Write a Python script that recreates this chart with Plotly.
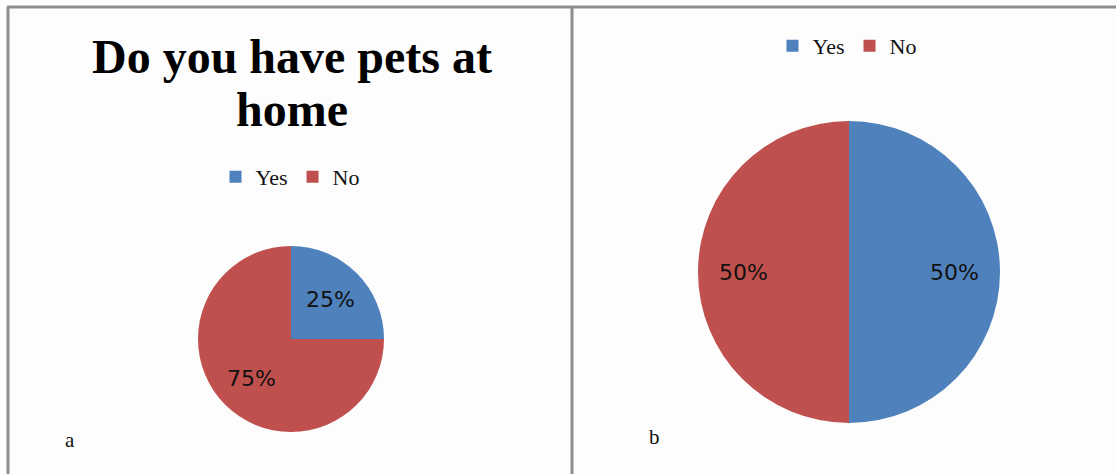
import math
import plotly.graph_objects as go

# Survey answers for the two panels
categories = ["Yes", "No"]
panel_a_values = [25, 75]
panel_b_values = [50, 50]
panel_labels = ["a", "b"]
title_lines = ["Do you have pets at", "home"]

W, H = 1116, 474
colors = ["#4f81bd", "#c0504d"]
serif = "Liberation Serif"


def px_x(v):
    return v / W


def px_y(v):
    return 1 - v / H


# pie geometry (centre and radius in pixels)
pies = [
    dict(values=panel_a_values, cx=291, cy=339, r=93, legend="legend", group="a", k=0.6),
    dict(values=panel_b_values, cx=849, cy=272, r=151, legend="legend2", group="b", k=0.70),
]

fig = go.Figure()
annotations = []
for p in pies:
    fig.add_trace(go.Pie(
        labels=categories,
        values=p["values"],
        sort=False,
        direction="clockwise",
        rotation=0,
        marker=dict(colors=colors, line=dict(width=0)),
        textinfo="none",
        hoverinfo="label+percent",
        domain=dict(x=[px_x(p["cx"] - p["r"]), px_x(p["cx"] + p["r"])],
                    y=[px_y(p["cy"] + p["r"]), px_y(p["cy"] - p["r"])]),
        legend=p["legend"],
        legendgroup=p["group"],
    ))
    # percentage labels placed along each slice's mid-angle
    total = sum(p["values"])
    cum = 0
    for v in p["values"]:
        mid = (cum + v / 2) / total * 2 * math.pi
        cum += v
        lx = p["cx"] + p["k"] * p["r"] * math.sin(mid)
        ly = p["cy"] - p["k"] * p["r"] * math.cos(mid)
        annotations.append(dict(
            x=px_x(lx), y=px_y(ly), xref="paper", yref="paper",
            text=f"{round(v / total * 100)}%", showarrow=False,
            font=dict(family="DejaVu Sans", size=22, color="#111111"),
            xanchor="center", yanchor="middle",
        ))

# chart title of the left panel, one annotation per line
for line, top in zip(title_lines, [28, 81]):
    annotations.append(dict(
        x=px_x(292), y=px_y(top), xref="paper", yref="paper",
        text=f"<b>{line}</b>", showarrow=False,
        font=dict(family=serif, size=48, color="#000000"),
        xanchor="center", yanchor="top", align="center",
    ))

# panel letters
for lab, (x, y) in zip(panel_labels, [(70, 440), (654, 437)]):
    annotations.append(dict(
        x=px_x(x), y=px_y(y), xref="paper", yref="paper",
        text=lab, showarrow=False,
        font=dict(family=serif, size=21, color="#111111"),
        xanchor="center", yanchor="middle",
    ))

# panel frame lines
line_style = dict(color="#8e8e8e", width=3)
shapes = [
    dict(type="line", xref="paper", yref="paper", x0=px_x(7), x1=1, y0=px_y(7), y1=px_y(7), line=line_style),
    dict(type="line", xref="paper", yref="paper", x0=px_x(8), x1=px_x(8), y0=px_y(7), y1=0, line=line_style),
    dict(type="line", xref="paper", yref="paper", x0=px_x(572), x1=px_x(572), y0=px_y(7), y1=0, line=line_style),
]

legend_common = dict(
    orientation="h", xanchor="center", yanchor="middle", traceorder="normal",
    font=dict(family=serif, size=22, color="#111111"),
    bgcolor="rgba(0,0,0,0)", itemwidth=30, tracegroupgap=0,
)

fig.update_layout(
    width=W, height=H,
    margin=dict(l=0, r=0, t=0, b=0),
    paper_bgcolor="#fdfdfd",
    plot_bgcolor="#fdfdfd",
    annotations=annotations,
    shapes=shapes,
    showlegend=True,
    legend=dict(x=px_x(290), y=px_y(177), **legend_common),
    legend2=dict(x=px_x(847), y=px_y(46), **legend_common),
)

fig.write_html("out.html")
